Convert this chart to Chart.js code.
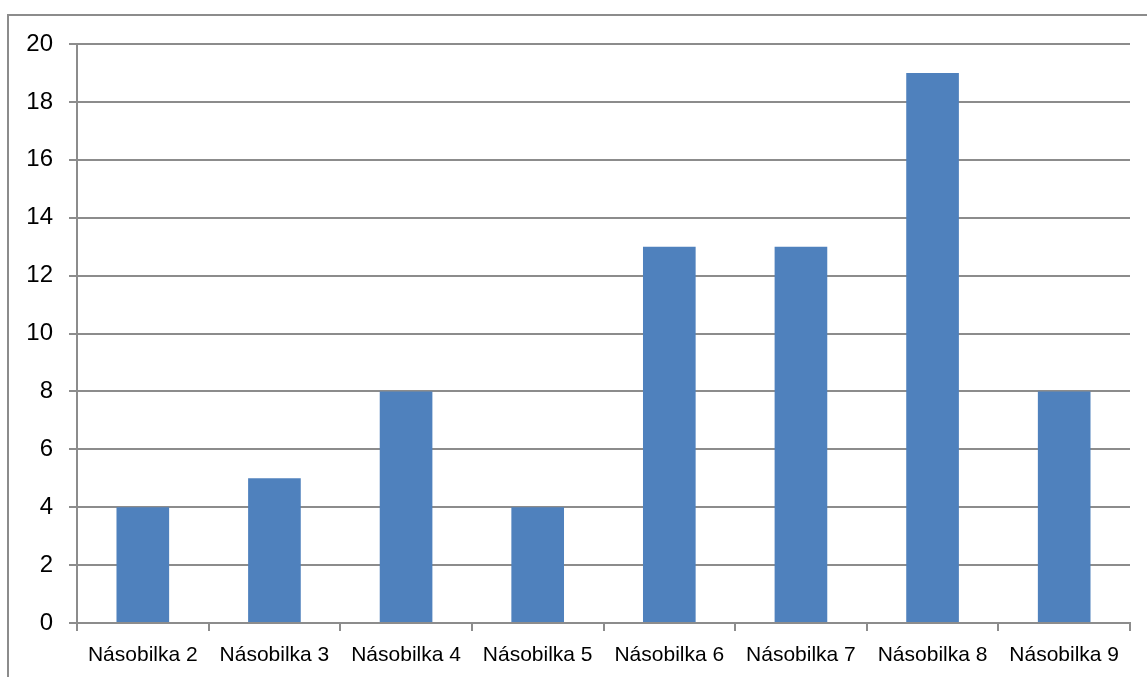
<!DOCTYPE html>
<html>
<head>
<meta charset="utf-8">
<script src="https://cdn.jsdelivr.net/npm/chart.js@4/dist/chart.umd.min.js"></script>
<style>
  html, body { margin: 0; padding: 0; background: #fff; }
  #wrap { position: relative; width: 1147px; height: 677px; overflow: hidden; }
  #frame { position: absolute; left: 7px; top: 14px; width: 1160px; height: 700px;
           border-left: 2px solid #8c8c8c; border-top: 2px solid #8c8c8c; box-sizing: border-box; }
  #c { position: absolute; left: 0; top: 0; }
</style>
</head>
<body>
<div id="wrap">
  <div id="frame"></div>
  <canvas id="c" width="1147" height="677"></canvas>
</div>
<script>
// Počet chyb v jednotlivých násobilkách
const categories = ['Násobilka 2', 'Násobilka 3', 'Násobilka 4', 'Násobilka 5',
                    'Násobilka 6', 'Násobilka 7', 'Násobilka 8', 'Násobilka 9'];
const values = [4, 5, 8, 4, 13, 13, 19, 8];
const yTicks = [0, 2, 4, 6, 8, 10, 12, 14, 16, 18, 20];

const gridColor = '#8c8c8c';
const font = '"Liberation Sans", Arial, sans-serif';

new Chart(document.getElementById('c'), {
  type: 'bar',
  data: {
    labels: categories,
    datasets: [{
      data: values,
      backgroundColor: '#4f81bd',
      borderWidth: 0,
      categoryPercentage: 1,
      barPercentage: 0.4
    }]
  },
  options: {
    responsive: false,
    animation: false,
    layout: { padding: { top: 44, right: 17, left: 0, bottom: 0 } },
    plugins: { legend: { display: false }, tooltip: { enabled: false } },
    scales: {
      x: {
        grid: { display: true, drawOnChartArea: false, drawTicks: true, tickLength: 8,
                color: gridColor, lineWidth: 2, offset: true },
        border: { display: true, color: gridColor, width: 2 },
        ticks: { color: '#000', font: { family: font, size: 21 }, padding: 12,
                 maxRotation: 0, autoSkip: false },
        afterFit: (s) => { s.height = 54; }
      },
      y: {
        min: 0, max: 20,
        afterBuildTicks: (s) => { s.ticks = yTicks.map(v => ({ value: v })); },
        grid: { color: gridColor, lineWidth: 2, tickLength: 8, drawTicks: true },
        border: { display: true, color: gridColor, width: 2 },
        ticks: { color: '#000', font: { family: font, size: 24 }, padding: 16 },
        afterFit: (s) => { s.width = 77; }
      }
    }
  }
});
</script>
</body>
</html>
